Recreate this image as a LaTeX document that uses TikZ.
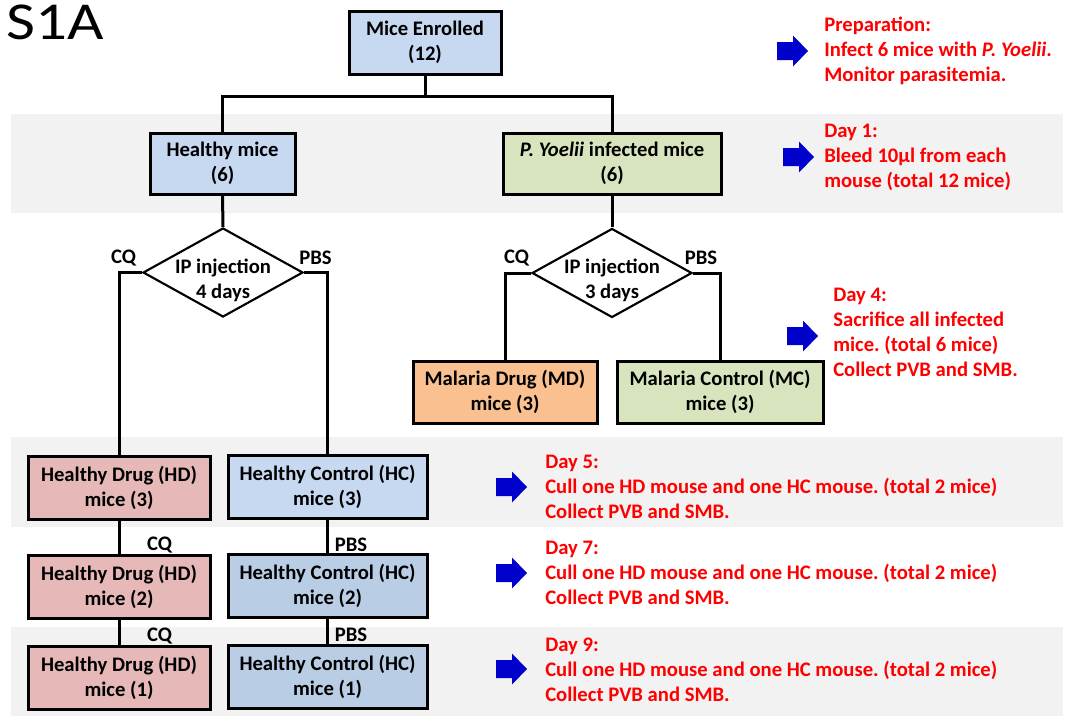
\documentclass[tikz,border=0pt]{standalone}
\usepackage{fontspec}
\setmainfont{Carlito}
\usetikzlibrary{shapes.geometric}
\definecolor{lblue}{HTML}{C6D9F1}
\definecolor{mblue}{HTML}{B9CDE5}
\definecolor{lgreen}{HTML}{D7E4BD}
\definecolor{lpink}{HTML}{E6B9B8}
\definecolor{lorange}{HTML}{FAC090}
\definecolor{bandgray}{HTML}{F2F2F2}
\definecolor{arrowblue}{HTML}{0000CC}
\definecolor{notered}{HTML}{FF0000}
\frenchspacing
\newcommand\myboxfont{\fontsize{15.5}{18.75}\selectfont\bfseries}
\newcommand\mybluearrow[2]{\fill[arrowblue, shift={(#1,#2)}] (0,-9) -- (16,-9) -- (16,-15.5) -- (31,0) -- (16,15.5) -- (16,9) -- (0,9) -- cycle;}
\begin{document}
\begin{tikzpicture}[x=0.75pt,y=-0.75pt,
  box/.style={draw=black, line width=2.25pt, align=center, inner sep=0pt, font=\myboxfont},
  bw/.style={minimum width=#1*0.75pt},
  bh/.style={minimum height=#1*0.75pt},
  conn/.style={draw=black, line width=2.25pt},
  dia/.style={diamond, draw=black, line width=1.6pt, minimum width=160*0.75pt, minimum height=89*0.75pt, inner sep=0pt},
  diatext/.style={font=\myboxfont, align=center, inner sep=0pt},
  lbl/.style={font=\myboxfont, inner sep=0pt},
  note/.style={font=\myboxfont, text=notered, align=left, anchor=west, inner sep=0pt},
  band/.style={fill=bandgray}]
\useasboundingbox (0,0) rectangle (1067,721);
\fill[white] (0,0) rectangle (1067,721);
% bands
\fill[band] (11,114) rectangle (1063,213);
\fill[band] (11,437) rectangle (1063,527);
\fill[band] (11,627) rectangle (1063,716);
% title
\node[anchor=base west, inner sep=0pt, font=\fontsize{40}{44}\selectfont] (title) at (6,39) {\scalebox{1.18}[1]{S1A}};
% boxes
\node[box, fill=lblue, bw=152, bh=63] (me) at (425,42.5) {Mice Enrolled\\(12)};
\node[box, fill=lblue, bw=145, bh=61] (hm) at (222.5,163.5) {Healthy mice\\(6)};
\node[box, fill=lgreen, bw=218, bh=61] (py) at (612,163.5) {\textit{P. Yoelii} infected mice\\(6)};
\node[dia] (d1) at (223,272.5) {};
\node[diatext] (d1t) at (223,280) {IP injection\\4 days};
\node[dia] (d2) at (612,273) {};
\node[diatext] (d2t) at (612,280.5) {IP injection\\3 days};
\node[box, fill=lorange, bw=184, bh=62] (md) at (505,392) {Malaria Drug (MD)\\mice (3)};
\node[box, fill=lgreen, bw=206, bh=62] (mc) at (720,392) {Malaria Control (MC)\\mice (3)};
\node[box, fill=lpink, bw=182, bh=63] (hd3) at (119,487.5) {Healthy Drug (HD)\\mice (3)};
\node[box, fill=lblue, bw=199, bh=63] (hc3) at (327.5,486.5) {Healthy Control (HC)\\mice (3)};
\node[box, fill=lpink, bw=182, bh=63] (hd2) at (119,586.5) {Healthy Drug (HD)\\mice (2)};
\node[box, fill=mblue, bw=199, bh=63] (hc2) at (327.5,585.5) {Healthy Control (HC)\\mice (2)};
\node[box, fill=lpink, bw=182, bh=63] (hd1) at (119,677.5) {Healthy Drug (HD)\\mice (1)};
\node[box, fill=mblue, bw=199, bh=63] (hc1) at (327.5,676.5) {Healthy Control (HC)\\mice (1)};
% connectors
\coordinate (j1) at (425,96);
\draw[conn] (me.south) -- (j1);
\draw[conn] (hm.north) |- (j1) -| (py.north);
\draw[conn] (hm.south) -- (d1.north);
\draw[conn] (py.south) -- (d2.north);
\draw[conn] (d1.west) -| (hd3.north);
\draw[conn] (d1.east) -| (hc3.north);
\draw[conn] (d2.west) -| (md.north);
\draw[conn] (d2.east) -| (mc.north);
\draw[conn] (hd3.south) -- (hd2.north);
\draw[conn] (hd2.south) -- (hd1.north);
\draw[conn] (hc3.south) -- (hc2.north);
\draw[conn] (hc2.south) -- (hc1.north);
% branch labels
\node[lbl] (cq1) at (123.5,258) {CQ};
\node[lbl] (pbs1) at (315.5,258) {PBS};
\node[lbl] (cq2) at (516.5,258) {CQ};
\node[lbl] (pbs2) at (701,258) {PBS};
\node[lbl] (cq3) at (159.5,545) {CQ};
\node[lbl] (pbs3) at (351,545) {PBS};
\node[lbl] (cq4) at (159.5,636) {CQ};
\node[lbl] (pbs4) at (351,635) {PBS};
% notes
\mybluearrow{777}{51}
\node[note] (n0) at (824,51) {Preparation:\\Infect 6 mice with \textit{P. Yoelii}.\\Monitor parasitemia.};
\mybluearrow{783}{157}
\node[note] (n1) at (824,157) {Day 1:\\Bleed 10µl from each\\mouse (total 12 mice)};
\mybluearrow{787}{336}
\node[note] (n4) at (833,332) {Day 4:\\Sacrifice all infected\\mice. (total 6 mice)\\Collect PVB and SMB.};
\mybluearrow{496}{487}
\node[note] (n5) at (545,486.5) {Day 5:\\Cull one HD mouse and one HC mouse. (total 2 mice)\\Collect PVB and SMB.};
\mybluearrow{496}{573}
\node[note] (n7) at (545,573) {Day 7:\\Cull one HD mouse and one HC mouse. (total 2 mice)\\Collect PVB and SMB.};
\mybluearrow{496}{669}
\node[note] (n9) at (545,669.5) {Day 9:\\Cull one HD mouse and one HC mouse. (total 2 mice)\\Collect PVB and SMB.};
\end{tikzpicture}
\end{document}
